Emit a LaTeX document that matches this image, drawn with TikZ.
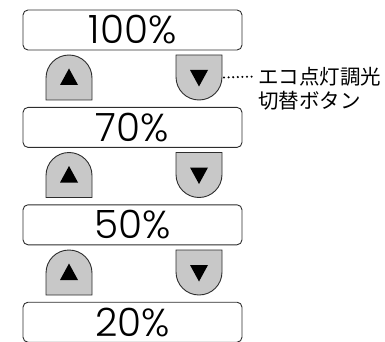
\documentclass[tikz,border=0pt]{standalone}
\usepackage{fontspec}
\setmainfont{Poppins}
\newfontfamily\pctfont{Poppins}[UprightFont=* Light]
\newfontfamily\cjk{Noto Sans CJK JP}
\usetikzlibrary{positioning}
\definecolor{btngray}{RGB}{200,200,200}
\definecolor{edgegray}{RGB}{45,45,45}
\tikzset{
	x=1pt, y=1pt, % una unidad es un pixel
	node distance=56.5pt, % espacio entre las cajas
	pct/.style={draw=edgegray, line width=0.9pt, rounded corners=5pt, minimum width=219pt, minimum height=40pt, inner sep=0pt, font=\pctfont\fontsize{39}{42}\selectfont}, % cajas de porcentaje
	btn/.style={draw=edgegray, fill=btngray, line width=0.9pt}, % botones grises
	lbl/.style={font=\cjk\fontsize{20.5}{24}\selectfont, inner sep=0pt}, % texto del boton
	upbtn/.pic={
		\draw[btn] (-23,-22.5) -- (-23,-0.5) arc[start angle=180, end angle=0, radius=23] -- (23,-22.5) -- cycle;
		\fill (-9,-7.5) -- (9,-7.5) -- (0,9) -- cycle;
	},
	downbtn/.pic={
		\draw[btn] (-23,22.5) -- (-23,0.5) arc[start angle=180, end angle=360, radius=23] -- (23,22.5) -- cycle;
		\fill (-9,7.5) -- (9,7.5) -- (0,-9) -- cycle;
		\coordinate (-e) at (23,0);
	}
}

\begin{document}
\begin{tikzpicture}
	\useasboundingbox (0,0) rectangle (385,-342);
	\node[pct] (p100) at (132.5,-30) {100\%};
	\node[pct, below=of p100] (p70) {70\%};
	\node[pct, below=of p70] (p50) {50\%};
	\node[pct, below=of p50] (p20) {20\%};
	\pic (u1) at (69,-77.5) {upbtn};
	\pic (d1) at (199,-77.5) {downbtn};
	\pic (u2) at (69,-175) {upbtn};
	\pic (d2) at (199,-175) {downbtn};
	\pic (u3) at (69,-272.5) {upbtn};
	\pic (d3) at (199,-272.5) {downbtn};
	\node[lbl, anchor=west] (eco) at (258,-76.5) {エコ点灯調光};
	\node[lbl, below=5pt of eco.south west, anchor=north west] (kirikae) {切替ボタン};
	\draw[line width=2.3pt, line cap=round, dash pattern=on 0pt off 4.6pt, shorten <=2pt, shorten >=3pt] (d1-e) -- (eco.west);
\end{tikzpicture}
\end{document}
